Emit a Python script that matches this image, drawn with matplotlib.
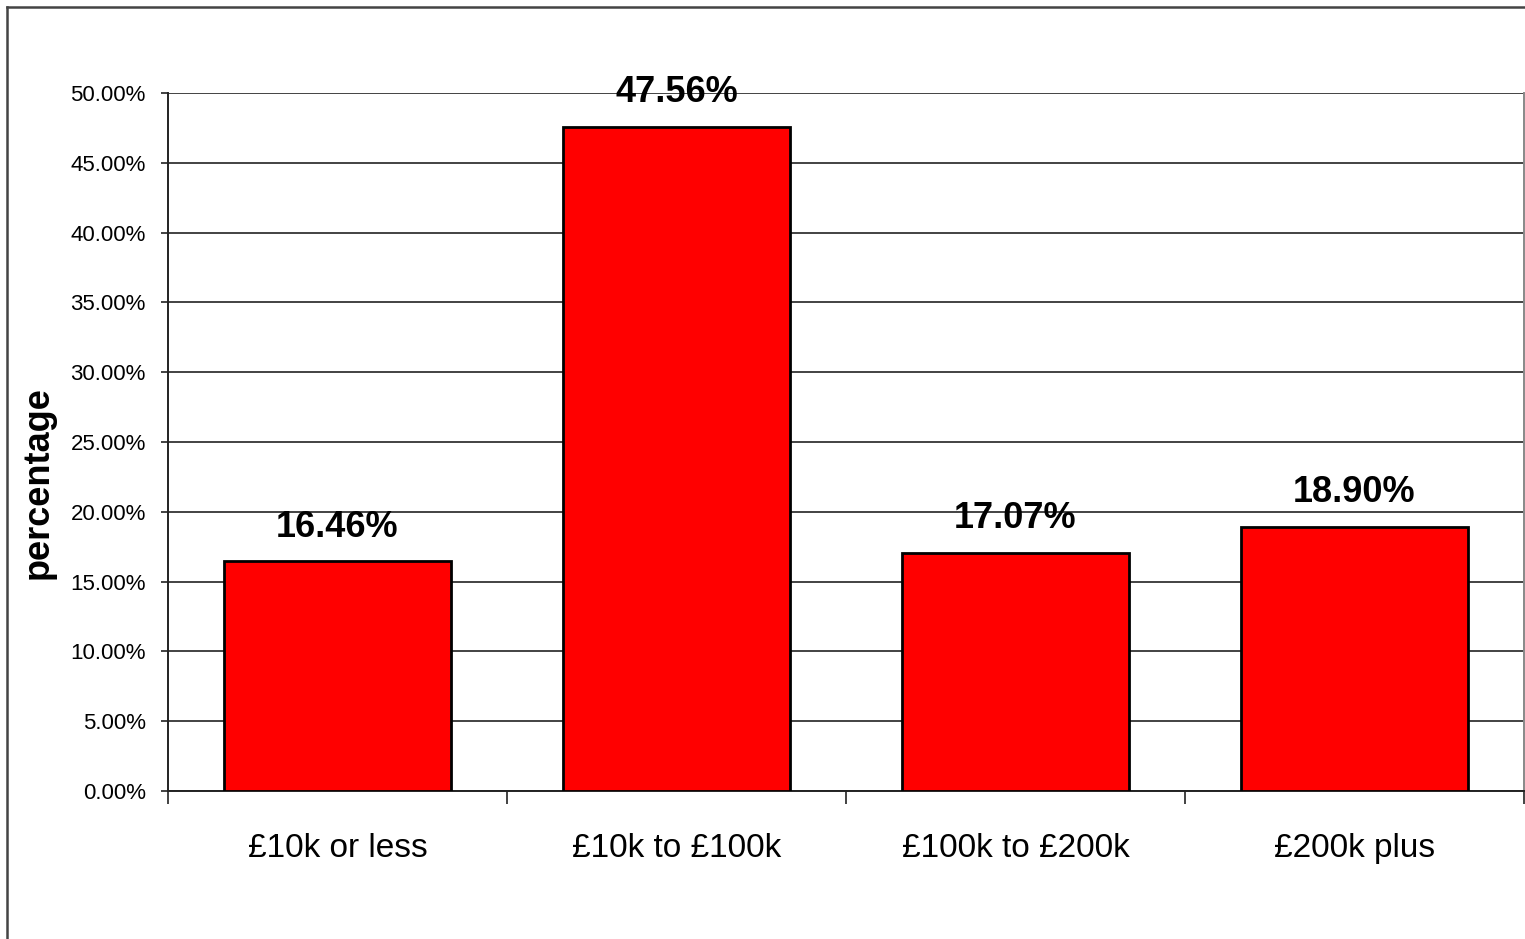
import matplotlib
matplotlib.use("Agg")
import matplotlib.pyplot as plt
from matplotlib.lines import Line2D
from matplotlib.ticker import FuncFormatter, FixedLocator

categories = ["£10k or less", "£10k to £100k", "£100k to £200k", "£200k plus"]
values = [16.46, 47.56, 17.07, 18.90]
yticks = [0, 5, 10, 15, 20, 25, 30, 35, 40, 45, 50]

plt.rcParams['font.family'] = ['Liberation Sans', 'DejaVu Sans']

fig = plt.figure(figsize=(15.25, 9.39), dpi=100)
W, H = 1525, 939
ax = fig.add_axes([168 / W, 1 - 791 / H, 1356 / W, (791 - 93) / H])

x = list(range(len(categories)))
ax.bar(x, values, width=0.67, color="#FF0000", edgecolor="black", linewidth=2, zorder=3)
for xi, v in zip(x, values):
    ax.annotate(f"{v:.2f}%", (xi, v), xytext=(0, 12), textcoords="offset points",
                ha="center", va="bottom", fontsize=26, fontweight="bold", zorder=4)

ax.set_xlim(-0.5, len(categories) - 0.5)
ax.set_ylim(0, 50)
ax.set_yticks(yticks)
ax.yaxis.set_major_formatter(FuncFormatter(lambda v, p: f"{v:.2f}%"))
ax.yaxis.grid(True, color="#222222", linewidth=1.2, zorder=0)
ax.tick_params(axis="y", direction="out", length=5, width=1.2, labelsize=16, pad=11, color="#222222")

ax.xaxis.set_major_locator(FixedLocator([i - 0.5 for i in range(len(categories) + 1)]))
ax.xaxis.set_major_formatter(FuncFormatter(lambda v, p: ""))
ax.xaxis.set_minor_locator(FixedLocator(x))
ax.set_xticklabels(categories, minor=True)
ax.tick_params(axis="x", which="major", direction="out", length=9, width=1.2, color="#222222")
ax.tick_params(axis="x", which="minor", length=0, labelsize=24, pad=30)

for s in ["left", "bottom"]:
    ax.spines[s].set_color("#222222")
    ax.spines[s].set_linewidth(1.4)
ax.spines["right"].set_color("#888888")
ax.spines["right"].set_linewidth(1.4)
ax.spines["top"].set_visible(False)

ax.set_ylabel("percentage", fontsize=26, fontweight="bold")
ax.yaxis.set_label_coords((56 - 168) / 1356, (791 - 483) / 698)

# outer chart border
fig.add_artist(Line2D([7 / W, 1.01], [1 - 7 / H, 1 - 7 / H], transform=fig.transFigure,
                      color="#444444", linewidth=1.8))
fig.add_artist(Line2D([7 / W, 7 / W], [1 - 7 / H, -0.01], transform=fig.transFigure,
                      color="#444444", linewidth=1.8))

fig.savefig("out.png", dpi=100, facecolor="white")
